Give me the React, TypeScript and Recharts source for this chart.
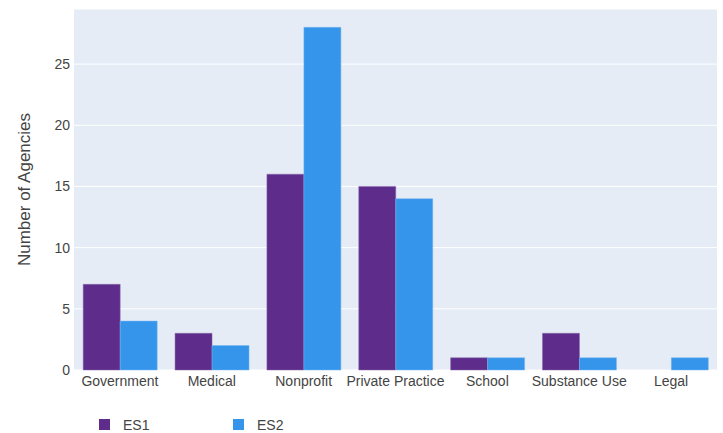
import React from "react"
import { BarChart, Bar, XAxis, YAxis, CartesianGrid } from "recharts"

const categories = ["Government", "Medical", "Nonprofit", "Private Practice", "School", "Substance Use", "Legal"]
const es1 = [7, 3, 16, 15, 1, 3, 0]
const es2 = [4, 2, 28, 14, 1, 1, 1]
const yTicks = [0, 5, 10, 15, 20, 25]

const seriesNames = ["ES1", "ES2"]
const seriesColors = ["#5e2d8b", "#3595ea"]

const data = categories.map((name, i) => ({ name, ES1: es1[i], ES2: es2[i] }))

const font = "'Liberation Sans', Arial, sans-serif"
const tickStyle = { fontSize: 14, fill: "#444", fontFamily: font }

export default function App() {
  return (
    <div style={{ position: "fixed", left: 0, top: 0, width: 723, height: 433, background: "#fff" }}>
      <BarChart
        width={723}
        height={433}
        data={data}
        margin={{ top: 9, right: 6, left: 0, bottom: 0 }}
        barCategoryGap="10%"
        barGap={0}
      >
        <CartesianGrid vertical={false} stroke="#fff" strokeWidth={1} fill="#e5ecf6" />
        <XAxis
          dataKey="name"
          height={63}
          axisLine={false}
          tickLine={false}
          interval={0}
          tick={tickStyle}
          tickMargin={0}
        />
        <YAxis
          width={74}
          domain={[0, 29.5]}
          ticks={yTicks}
          axisLine={false}
          tickLine={false}
          tick={tickStyle}
          tickMargin={-2}
          label={{
            value: "Number of Agencies",
            angle: -90,
            position: "insideLeft",
            offset: 24,
            style: { fontSize: 17, fill: "#444", fontFamily: font, textAnchor: "middle" },
          }}
        />
        {seriesNames.map((s, i) => (
          <Bar
            key={s}
            dataKey={s}
            fill={seriesColors[i]}
            stroke={i === 0 ? "#8a6aae" : "#79b6f0"}
            strokeWidth={0.5}
            isAnimationActive={false}
          />
        ))}
      </BarChart>
      <div style={{ position: "absolute", top: 416, left: 99, display: "flex", fontFamily: font, fontSize: 14, color: "#444" }}>
        {seriesNames.map((s, i) => (
          <div key={s} style={{ display: "flex", alignItems: "center", width: 134, height: 17 }}>
            <span style={{ display: "inline-block", width: 11, height: 11, background: seriesColors[i], marginRight: 13 }} />
            {s}
          </div>
        ))}
      </div>
    </div>
  )
}
